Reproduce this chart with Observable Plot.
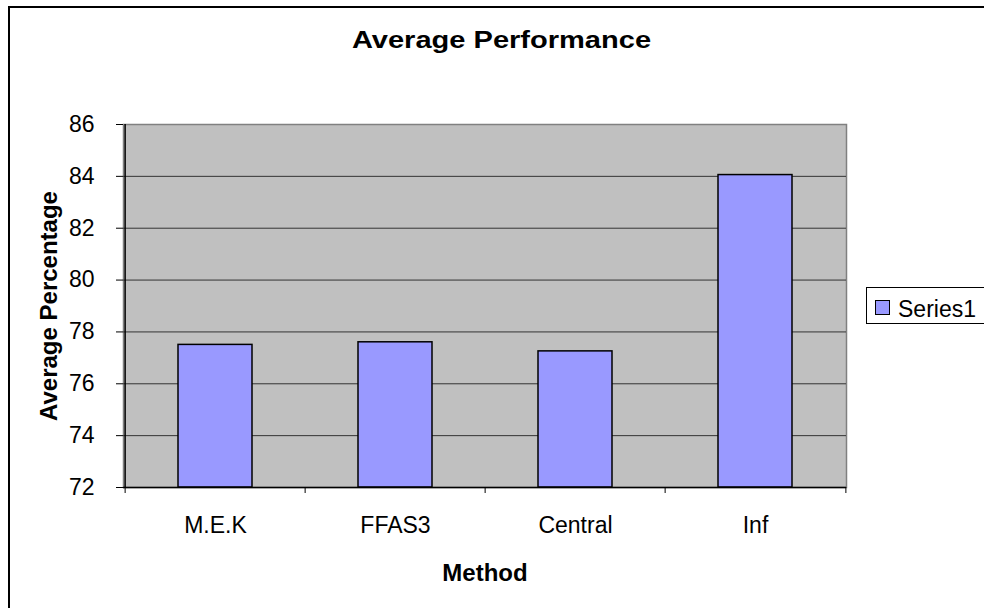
<!DOCTYPE html>
<html>
<head>
<meta charset="utf-8">
<script src="https://cdn.jsdelivr.net/npm/d3@7"></script>
<script src="https://cdn.jsdelivr.net/npm/@observablehq/plot@0.6"></script>
<style>
  html, body { margin: 0; padding: 0; background: #fff; }
  #wrap { position: relative; width: 984px; height: 608px; overflow: hidden; font-family: "Liberation Sans", Arial, sans-serif; }
  #frame { position: absolute; left: 8px; top: 6px; width: 1000px; height: 700px; border: 2px solid #000; box-sizing: border-box; pointer-events: none; }
  #title { position: absolute; left: 0; top: 28px; width: 1003px; text-align: center; font-weight: bold; font-size: 24px; line-height: 24px; color: #000; white-space: nowrap; transform: scaleX(1.21); transform-origin: 501.5px 0; }
  #legend { position: absolute; left: 866px; top: 287px; width: 140px; height: 37px; border: 1px solid #000; box-sizing: border-box; background: #fff; }
  #legend .sw { position: absolute; left: 8px; top: 12px; width: 15px; height: 15px; background: #9999FF; border: 1px solid #000; box-sizing: border-box; }
  #legend .lb { position: absolute; left: 31px; top: 7px; font-size: 23px; line-height: 28px; color: #000; }
  svg { position: absolute; left: 0; top: 0; overflow: visible; }
</style>
</head>
<body>
<div id="wrap"></div>
<script>
const methods = ["M.E.K", "FFAS3", "Central", "Inf"];
const averages = [77.5, 77.6, 77.25, 84.05];
const yTicks = [72, 74, 76, 78, 80, 82, 84, 86];
const seriesName = "Series1";
const titleText = "Average Performance";
const xTitle = "Method";
const yTitle = "Average Percentage";

const data = methods.map((m, i) => ({method: m, value: averages[i]}));

const W = 984, H = 608, ML = 123, MR = 138, MT = 124, MB = 121;
const step = (W - ML - MR) / methods.length;

const chart = Plot.plot({
  width: W, height: H,
  marginLeft: ML, marginRight: MR, marginTop: MT, marginBottom: MB,
  style: {background: "transparent", fontFamily: "'Liberation Sans', Arial, sans-serif", fontSize: "23px", color: "#000"},
  x: {domain: methods, paddingInner: 0.59, paddingOuter: 0.295, label: null},
  y: {domain: [72, 86], ticks: yTicks, label: null},
  marks: [
    Plot.frame({fill: "#C0C0C0", stroke: "#808080", strokeWidth: 1.5}),
    Plot.gridY(yTicks.filter(v => v > 72 && v < 86), {stroke: "#333", strokeOpacity: 1, strokeWidth: 1}),
    Plot.barY(data, {x: "method", y1: 72, y2: "value", fill: "#9999FF", stroke: "#000", strokeWidth: 1.5}),
    Plot.ruleY([72], {stroke: "#000", strokeWidth: 1.5}),
    Plot.ruleX(methods.slice(0, 1), {x: d => d, dx: -step / 2, stroke: "#000", strokeWidth: 1.5}),
    Plot.axisY({ticks: yTicks, tickSize: 7, tickPadding: 22, label: null, fontSize: 23, stroke: "#000"}),
    Plot.axisX({tickSize: 0, tickPadding: 29, label: null, fontSize: 23}),
    Plot.ruleX(methods, {x: d => d, dx: -step / 2, y1: 72, y2: 72, insetBottom: -6, stroke: "#000"}),
    Plot.ruleX(methods.slice(-1), {x: d => d, dx: step / 2, y1: 72, y2: 72, insetBottom: -6, stroke: "#000"}),
    Plot.text([yTitle], {text: d => d, frameAnchor: "left", textAnchor: "middle", lineAnchor: "middle", dx: -74, rotate: -90, fontWeight: "bold", fontSize: 24, fill: "#000"}),
    Plot.text([xTitle], {text: d => d, frameAnchor: "bottom", textAnchor: "middle", lineAnchor: "middle", dy: 86, fontWeight: "bold", fontSize: 24, fill: "#000"})
  ]
});

const wrap = document.getElementById("wrap");
wrap.appendChild(chart);
const title = document.createElement("div");
title.id = "title";
title.textContent = titleText;
wrap.appendChild(title);
const frame = document.createElement("div");
frame.id = "frame";
wrap.appendChild(frame);
const legend = document.createElement("div");
legend.id = "legend";
legend.innerHTML = `<div class="sw"></div><div class="lb">${seriesName}</div>`;
wrap.appendChild(legend);
</script>
</body>
</html>
